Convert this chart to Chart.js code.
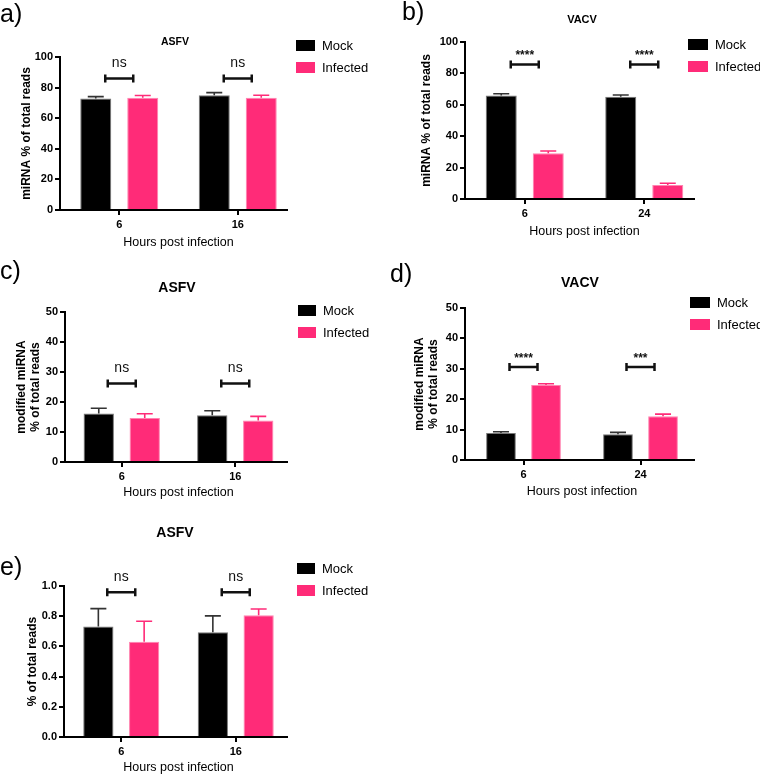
<!DOCTYPE html>
<html lang="en">
<head>
  <meta charset="UTF-8">
  <title>miRNA reads after infection</title>
  <script src="https://cdn.jsdelivr.net/npm/chart.js"></script>
  <style>
    body{margin:0; background:#fff;}
    #page{position:relative; width:760px; height:777px;}
    #page canvas{position:absolute;}
  </style>
</head>
<body>
<div id="page">
  <canvas id="chartA" width="380" height="260" style="left:0;top:0"></canvas>
  <canvas id="chartB" width="380" height="260" style="left:380px;top:0"></canvas>
  <canvas id="chartC" width="380" height="260" style="left:0;top:260px"></canvas>
  <canvas id="chartD" width="380" height="260" style="left:380px;top:260px"></canvas>
  <canvas id="chartE" width="380" height="257" style="left:0;top:520px"></canvas>
</div>
<script>
  // categories
  const hoursASFV = ['6', '16'];
  const hoursVACV = ['6', '24'];
  const seriesNames = ['Mock', 'Infected'];

  // a) ASFV miRNA % of total reads
  const aMock = [72.8, 75.0];
  const aMockErr = [1.3, 1.7];
  const aInf = [73.3, 73.3];
  const aInfErr = [1.5, 1.7];
  const aSig = ['ns', 'ns'];

  // b) VACV miRNA % of total reads
  const bMock = [66.0, 65.1];
  const bMockErr = [1.0, 1.1];
  const bInf = [29.1, 8.9];
  const bInfErr = [1.5, 1.1];
  const bSig = ['****', '****'];

  // c) ASFV modified miRNA
  const cMock = [16.2, 15.6];
  const cMockErr = [1.7, 1.5];
  const cInf = [14.7, 13.8];
  const cInfErr = [1.4, 1.4];
  const cSig = ['ns', 'ns'];

  // d) VACV modified miRNA
  const dMock = [8.9, 8.5];
  const dMockErr = [0.4, 0.6];
  const dInf = [24.7, 14.4];
  const dInfErr = [0.4, 0.7];
  const dSig = ['****', '***'];

  // e) ASFV % of total reads
  const eMock = [0.731, 0.694];
  const eMockErr = [0.119, 0.108];
  const eInf = [0.630, 0.806];
  const eInfErr = [0.137, 0.042];
  const eSig = ['ns', 'ns'];

  const PINK = '#ff2b78';
  const FONT = '"Liberation Sans", Arial, Helvetica, sans-serif';
  Chart.defaults.font.family = FONT;
  Chart.defaults.color = '#000';

  // x axis line, error bars, significance brackets, panel letter, title, legend
  const decor = {
    id: 'decor',
    afterDatasetsDraw(chart, args, o) {
      const ctx = chart.ctx, xs = chart.scales.x, ys = chart.scales.y;
      ctx.save();
      // x axis line stops a bit short of the plot edge, as in Prism
      ctx.strokeStyle = '#000';
      ctx.lineWidth = 2;
      ctx.beginPath();
      ctx.moveTo(chart.chartArea.left - 1, Math.round(xs.top));
      ctx.lineTo(o.axisEnd, Math.round(xs.top));
      ctx.stroke();

      chart.data.datasets.forEach((ds, i) => {
        chart.getDatasetMeta(i).data.forEach((bar, j) => {
          const top = ys.getPixelForValue(ds.data[j] + ds.err[j]);
          ctx.strokeStyle = ds.errColor;
          ctx.lineWidth = 1.6;
          ctx.beginPath();
          ctx.moveTo(bar.x, bar.y);
          ctx.lineTo(bar.x, top);
          ctx.moveTo(bar.x - 8, top);
          ctx.lineTo(bar.x + 8, top);
          ctx.stroke();
        });
      });

      // brackets
      ctx.strokeStyle = '#111';
      ctx.fillStyle = '#111';
      ctx.lineWidth = 2.5;
      o.sig.forEach((txt, j) => {
        const cx = xs.getPixelForValue(j);
        const y = ys.getPixelForValue(o.sigAt);
        ctx.beginPath();
        ctx.moveTo(cx - 14, y); ctx.lineTo(cx + 14, y);
        ctx.moveTo(cx - 14, y - 4); ctx.lineTo(cx - 14, y + 4);
        ctx.moveTo(cx + 14, y - 4); ctx.lineTo(cx + 14, y + 4);
        ctx.stroke();
        ctx.textAlign = 'center';
        ctx.textBaseline = 'alphabetic';
        if (txt === 'ns') {
          ctx.font = '14px ' + FONT;
          ctx.fillText(txt, cx, y - 11);
        } else {
          ctx.font = 'bold 12px ' + FONT;
          ctx.fillText(txt, cx, y - 5);
        }
      });

      // panel letter
      ctx.fillStyle = '#000';
      ctx.font = '25px ' + FONT;
      ctx.textAlign = 'left';
      ctx.textBaseline = 'top';
      ctx.fillText(o.letter, o.letterX, o.letterY);

      // title
      ctx.font = 'bold ' + o.titleSize + 'px ' + FONT;
      ctx.textAlign = 'center';
      ctx.textBaseline = 'middle';
      ctx.fillText(o.title, o.titleX, o.titleY);

      // legend
      ctx.font = '13px ' + FONT;
      ctx.textAlign = 'left';
      chart.data.datasets.forEach((ds, i) => {
        const y = o.legY + i * 22;
        ctx.fillStyle = ds.backgroundColor;
        ctx.fillRect(o.legX, y, o.legW, 11);
        ctx.fillStyle = '#000';
        ctx.fillText(ds.label, o.legX + o.legW + 7, y + 6);
      });
      ctx.restore();
    }
  };

  function makePanel(id, p) {
    new Chart(document.getElementById(id), {
      type: 'bar',
      data: {
        labels: p.labels,
        datasets: [
          {label: seriesNames[0], data: p.mock, err: p.mockErr, errColor: '#333',
           backgroundColor: '#000', borderColor: '#777', borderWidth: 1,
           categoryPercentage: p.catPct, barPercentage: 0.66},
          {label: seriesNames[1], data: p.inf, err: p.infErr, errColor: PINK,
           backgroundColor: PINK, borderColor: '#ff84b0', borderWidth: 1,
           categoryPercentage: p.catPct, barPercentage: 0.66}
        ]
      },
      options: {
        responsive: false,
        animation: false,
        layout: {padding: {top: p.top, right: p.right, left: 0, bottom: 0}},
        plugins: {
          legend: {display: false},
          tooltip: {enabled: false},
          decor: p.decor
        },
        scales: {
          x: {
            grid: {offset: false, drawOnChartArea: false, tickLength: 5, color: '#000', lineWidth: 2},
            border: {display: false},
            ticks: {font: {size: 11, weight: 'bold'}, color: '#000', padding: 3},
            title: {display: true, text: 'Hours post infection', font: {size: 12.5}, padding: {top: 0, bottom: p.xTitlePad}},
            afterFit: s => { s.height = p.xAxisH; }
          },
          y: {
            min: 0,
            max: p.yMax,
            ticks: {stepSize: p.yStep, font: {size: 11, weight: 'bold'}, color: '#000', padding: 2,
                    callback: v => p.yMax < 2 ? v.toFixed(1) : v},
            grid: {drawOnChartArea: false, tickLength: 5, color: '#000', lineWidth: 2},
            border: {color: '#000', width: 2},
            title: {display: true, text: p.yTitle, font: {size: 12, weight: 'bold', lineHeight: 1.1},
                    padding: {top: p.yTitlePad, bottom: 0}},
            afterFit: s => { s.width = p.yAxisW; }
          }
        }
      },
      plugins: [decor]
    });
  }

  makePanel('chartA', {
    labels: hoursASFV, mock: aMock, mockErr: aMockErr, inf: aInf, infErr: aInfErr,
    yMax: 100, yStep: 20, yTitle: 'miRNA % of total reads', catPct: 0.793,
    top: 57, right: 83, xAxisH: 50, yAxisW: 60, xTitlePad: 9.5, yTitlePad: 20.5,
    decor: {sig: aSig, sigAt: 86, axisEnd: 288, letter: 'a)', letterX: 0, letterY: 3, title: 'ASFV', titleSize: 10.5,
            titleX: 175, titleY: 42, legX: 296, legY: 40, legW: 19}
  });

  makePanel('chartB', {
    labels: hoursVACV, mock: bMock, mockErr: bMockErr, inf: bInf, infErr: bInfErr,
    yMax: 100, yStep: 20, yTitle: 'miRNA % of total reads', catPct: 0.787,
    top: 42, right: 56, xAxisH: 61, yAxisW: 85, xTitlePad: 20.5, yTitlePad: 40.5,
    decor: {sig: bSig, sigAt: 85.7, axisEnd: 315, letter: 'b)', letterX: 22, letterY: 1, title: 'VACV', titleSize: 11,
            titleX: 202, titleY: 20, legX: 308, legY: 39, legW: 20}
  });

  makePanel('chartC', {
    labels: hoursASFV, mock: cMock, mockErr: cMockErr, inf: cInf, infErr: cInfErr,
    yMax: 50, yStep: 10, yTitle: ['modified miRNA', '% of total reads'], catPct: 0.81,
    top: 52, right: 88, xAxisH: 58, yAxisW: 65, xTitlePad: 19.5, yTitlePad: 15.5,
    decor: {sig: cSig, sigAt: 26.2, axisEnd: 288, letter: 'c)', letterX: 0, letterY: 0, title: 'ASFV', titleSize: 14,
            titleX: 177, titleY: 28, legX: 298, legY: 45, legW: 18}
  });

  makePanel('chartD', {
    labels: hoursVACV, mock: dMock, mockErr: dMockErr, inf: dInf, infErr: dInfErr,
    yMax: 50, yStep: 10, yTitle: ['modified miRNA', '% of total reads'], catPct: 0.77,
    top: 48, right: 61, xAxisH: 60, yAxisW: 85, xTitlePad: 20.5, yTitlePad: 33.5,
    decor: {sig: dSig, sigAt: 30.6, axisEnd: 315, letter: 'd)', letterX: 10, letterY: 3, title: 'VACV', titleSize: 14,
            titleX: 200, titleY: 23, legX: 310, legY: 37, legW: 20}
  });

  makePanel('chartE', {
    labels: hoursASFV, mock: eMock, mockErr: eMockErr, inf: eInf, infErr: eInfErr,
    yMax: 1.0, yStep: 0.2, yTitle: '% of total reads', catPct: 0.80,
    top: 66, right: 87, xAxisH: 40, yAxisW: 64, xTitlePad: 1.5, yTitlePad: 26,
    decor: {sig: eSig, sigAt: 0.958, axisEnd: 288, letter: 'e)', letterX: 0, letterY: 36, title: 'ASFV', titleSize: 14,
            titleX: 175, titleY: 13, legX: 297, legY: 43, legW: 18}
  });
</script>
</body>
</html>
